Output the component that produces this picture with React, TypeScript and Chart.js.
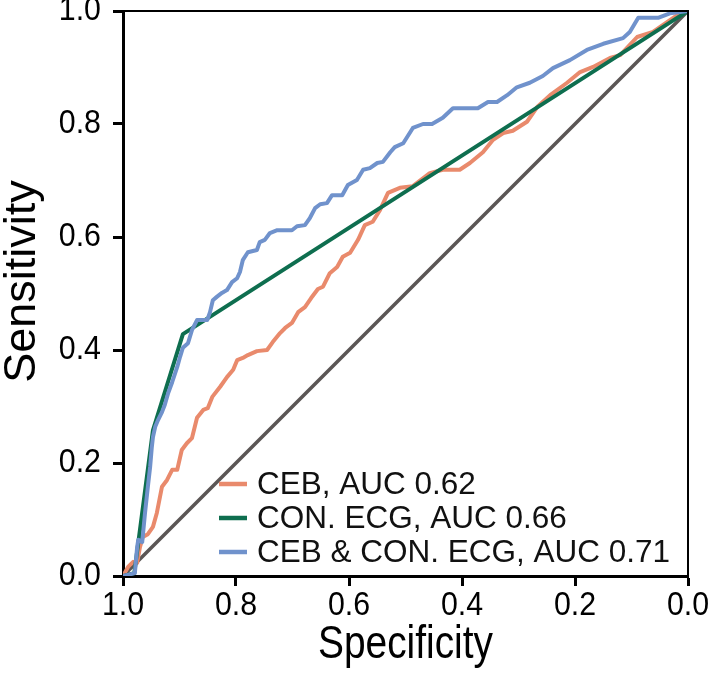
import React, { useEffect, useRef } from "react";
import { Chart, registerables } from "chart.js";

Chart.register(...registerables);

// ---- data ----
const labels = ["CEB, AUC 0.62", "CON. ECG, AUC 0.66", "CEB & CON. ECG, AUC 0.71"];
const colors = ["#E98A6C", "#0E6E4F", "#7092CC"];
const diagColor = "#5B5655";

const specCEB = [1.000, 0.991, 0.982, 0.975, 0.970, 0.965, 0.956, 0.947, 0.940, 0.931, 0.922, 0.913, 0.904, 0.896, 0.887, 0.878, 0.869, 0.858, 0.850, 0.842, 0.828, 0.816, 0.805, 0.798, 0.788, 0.779, 0.763, 0.745, 0.735, 0.722, 0.713, 0.701, 0.690, 0.678, 0.667, 0.655, 0.646, 0.634, 0.621, 0.611, 0.598, 0.584, 0.572, 0.558, 0.545, 0.531, 0.510, 0.487, 0.457, 0.434, 0.404, 0.386, 0.363, 0.345, 0.327, 0.310, 0.285, 0.267, 0.244, 0.214, 0.191, 0.168, 0.138, 0.120, 0.103, 0.090, 0.062, 0.032, 0.014, 0.000];
const sensCEB = [0.000, 0.016, 0.025, 0.023, 0.051, 0.069, 0.074, 0.087, 0.112, 0.158, 0.170, 0.188, 0.188, 0.223, 0.235, 0.244, 0.280, 0.294, 0.297, 0.317, 0.335, 0.352, 0.365, 0.382, 0.386, 0.391, 0.398, 0.400, 0.414, 0.430, 0.439, 0.448, 0.467, 0.476, 0.492, 0.508, 0.512, 0.536, 0.547, 0.565, 0.572, 0.595, 0.621, 0.627, 0.648, 0.678, 0.687, 0.690, 0.713, 0.719, 0.719, 0.731, 0.750, 0.772, 0.784, 0.788, 0.804, 0.830, 0.851, 0.873, 0.892, 0.901, 0.917, 0.922, 0.940, 0.954, 0.963, 0.984, 0.996, 1.000];

const specECG = [1.000, 0.980, 0.947, 0.894, 0.000];
const sensECG = [0.000, 0.005, 0.258, 0.428, 1.000];

const specBoth = [1.000, 0.979, 0.975, 0.973, 0.966, 0.961, 0.956, 0.952, 0.949, 0.947, 0.943, 0.938, 0.931, 0.926, 0.920, 0.913, 0.904, 0.899, 0.894, 0.885, 0.878, 0.869, 0.851, 0.846, 0.841, 0.834, 0.825, 0.816, 0.807, 0.798, 0.793, 0.788, 0.779, 0.763, 0.758, 0.749, 0.740, 0.727, 0.701, 0.692, 0.678, 0.669, 0.660, 0.651, 0.639, 0.630, 0.612, 0.602, 0.586, 0.575, 0.563, 0.550, 0.540, 0.527, 0.519, 0.504, 0.487, 0.469, 0.453, 0.434, 0.416, 0.372, 0.354, 0.338, 0.320, 0.303, 0.280, 0.257, 0.239, 0.209, 0.179, 0.150, 0.115, 0.103, 0.088, 0.053, 0.032, 0.014, 0.000];
const sensBoth = [0.000, 0.005, 0.051, 0.064, 0.060, 0.112, 0.158, 0.193, 0.228, 0.246, 0.264, 0.276, 0.290, 0.303, 0.324, 0.343, 0.370, 0.388, 0.404, 0.412, 0.435, 0.453, 0.453, 0.467, 0.488, 0.494, 0.501, 0.506, 0.520, 0.527, 0.538, 0.559, 0.573, 0.577, 0.591, 0.595, 0.607, 0.612, 0.612, 0.619, 0.621, 0.634, 0.651, 0.658, 0.660, 0.674, 0.674, 0.692, 0.701, 0.719, 0.722, 0.731, 0.733, 0.750, 0.759, 0.766, 0.793, 0.800, 0.800, 0.811, 0.828, 0.828, 0.839, 0.839, 0.851, 0.865, 0.873, 0.885, 0.899, 0.913, 0.931, 0.942, 0.952, 0.963, 0.988, 0.988, 0.996, 0.998, 1.000];

const specDiag = [1, 0];
const sensDiag = [0, 1];

const tickValues = [0, 0.2, 0.4, 0.6, 0.8, 1.0];

const toPts = (xs: number[], ys: number[]) => xs.map((x, i) => ({ x, y: ys[i] }));

const FONT = "'Liberation Sans', Arial, sans-serif";

// Condense horizontal text of a scale (labels / title) around its anchor point.
function condenseScale(s: any, labelSqueeze: number, titleSqueeze: number, vTitleShift: number) {
  if (s.__condensed) return;
  s.__condensed = true;
  const wrap = (name: string, squeeze: number) => {
    const orig = s[name].bind(s);
    s[name] = (...args: any[]) => {
      const ctx = s.ctx;
      const origRotate = ctx.rotate;
      ctx.rotate = function (a: number) {
        origRotate.call(this, a);
        if (Math.abs(a) < 1e-6) {
          this.scale(squeeze, 1);
        } else if (vTitleShift) {
          this.translate(vTitleShift, 0);
        }
      };
      try {
        orig(...args);
      } finally {
        ctx.rotate = origRotate;
      }
    };
  };
  wrap("drawLabels", labelSqueeze);
  wrap("drawTitle", titleSqueeze);
}

const framePlugin = {
  id: "frame",
  afterDatasetsDraw(chart: any) {
    const { ctx, chartArea } = chart;
    const { left, right, top, bottom } = chartArea;
    ctx.save();
    ctx.strokeStyle = "#000";
    ctx.lineWidth = 2;
    ctx.beginPath();
    ctx.moveTo(left, top);
    ctx.lineTo(right, top);
    ctx.lineTo(right, bottom);
    ctx.stroke();
    ctx.restore();

    // legend inside the plot
    const x0 = left + 96;
    const rowH = 34;
    const yLast = bottom - 24;
    ctx.save();
    ctx.font = `31.5px ${FONT}`;
    ctx.textBaseline = "middle";
    ctx.textAlign = "left";
    labels.forEach((lab, i) => {
      const y = yLast - (labels.length - 1 - i) * rowH;
      ctx.strokeStyle = colors[i];
      ctx.lineWidth = 4.5;
      ctx.beginPath();
      ctx.moveTo(x0, y);
      ctx.lineTo(x0 + 28, y);
      ctx.stroke();
      ctx.fillStyle = "#111";
      ctx.fillText(lab, x0 + 38, y + 1);
    });
    ctx.restore();
  },
};

export default function App() {
  const ref = useRef<HTMLCanvasElement | null>(null);
  useEffect(() => {
    document.body.style.margin = "0";
    const canvas = ref.current!;
    const chart = new Chart(canvas, {
      type: "scatter",
      data: {
        datasets: [
          { label: labels[0], data: toPts(specCEB, sensCEB), borderColor: colors[0], backgroundColor: colors[0], order: 3 },
          { label: labels[1], data: toPts(specECG, sensECG), borderColor: colors[1], backgroundColor: colors[1], order: 2 },
          { label: labels[2], data: toPts(specBoth, sensBoth), borderColor: colors[2], backgroundColor: colors[2], order: 1 },
          { label: "diag", data: toPts(specDiag, sensDiag), borderColor: diagColor, backgroundColor: diagColor, borderWidth: 3.5, order: 4 },
        ].map((d: any) => ({
          showLine: true,
          pointRadius: 0,
          pointHoverRadius: 0,
          borderWidth: 4,
          tension: 0,
          borderJoinStyle: "round",
          ...d,
        })),
      },
      options: {
        responsive: false,
        animation: false,
        events: [],
        layout: { padding: { top: 11, right: 21, left: 0, bottom: 0 } },
        plugins: {
          legend: { display: false },
          tooltip: { enabled: false },
        },
        scales: {
          x: {
            type: "linear",
            reverse: true,
            min: 0,
            max: 1,
            afterBuildTicks: (s: any) => { s.ticks = tickValues.map((v) => ({ value: v })); },
            afterFit: (s: any) => {
              s.height = 106; s.paddingLeft = 0; s.paddingRight = 0;
              condenseScale(s, 0.92, 0.845, 0);
            },
            grid: { drawOnChartArea: false, tickLength: 10, tickWidth: 3, tickColor: "#000" },
            border: { color: "#000", width: 3 },
            ticks: {
              color: "#000",
              padding: 2,
              font: { family: FONT, size: 33, lineHeight: 1.1 },
              callback: (v: any) => Number(v).toFixed(1),
            },
            title: {
              display: true,
              text: "Specificity",
              color: "#000",
              font: { family: FONT, size: 46, lineHeight: 1.1 },
              padding: { top: 0, bottom: 11 },
            },
          },
          y: {
            type: "linear",
            min: 0,
            max: 1,
            afterBuildTicks: (s: any) => { s.ticks = tickValues.map((v) => ({ value: v })); },
            afterFit: (s: any) => {
              s.width = 123; s.paddingTop = 0; s.paddingBottom = 0;
              condenseScale(s, 0.92, 1, 12);
            },
            grid: { drawOnChartArea: false, tickLength: 10, tickWidth: 3, tickColor: "#000" },
            border: { color: "#000", width: 3 },
            ticks: {
              color: "#000",
              padding: 12,
              font: { family: FONT, size: 33, lineHeight: 1.1 },
              callback: (v: any) => Number(v).toFixed(1),
            },
            title: {
              display: true,
              text: "Sensitivity",
              color: "#000",
              font: { family: FONT, size: 45, lineHeight: 1.0 },
              padding: { top: 0, bottom: 0 },
            },
          },
        },
      },
      plugins: [framePlugin],
    });
    return () => chart.destroy();
  }, []);
  return <canvas ref={ref} width={709} height={682} style={{ display: "block" }} />;
}
